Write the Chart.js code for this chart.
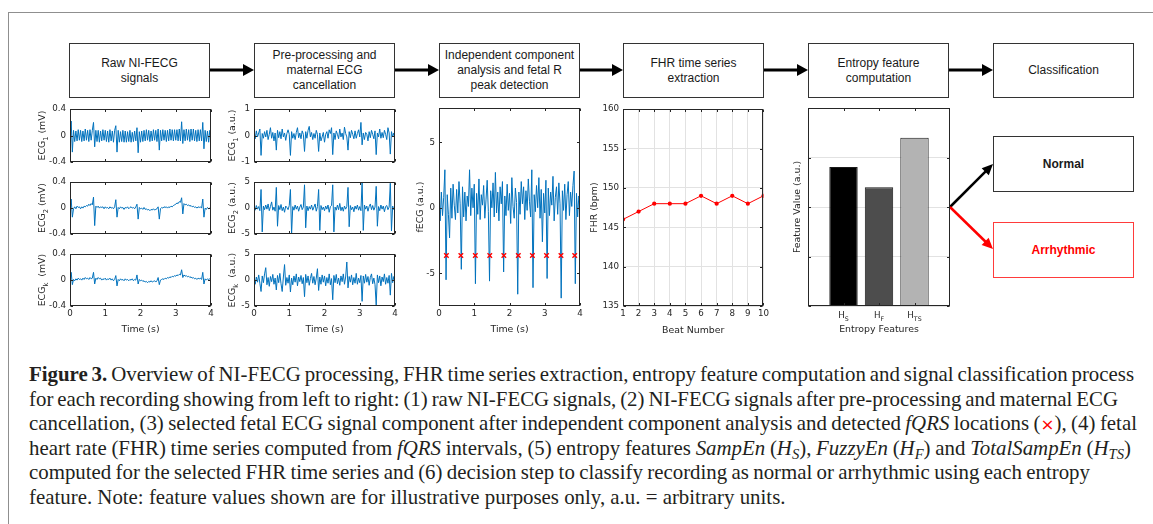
<!DOCTYPE html>
<html>
<head>
<meta charset="utf-8">
<script src="https://cdn.jsdelivr.net/npm/chart.js@4.4.1/dist/chart.umd.min.js"></script>
<style>
  html, body { margin: 0; padding: 0; background: #fff; }
  #page { position: relative; width: 1153px; height: 524px; overflow: hidden; background: #fff; }
  #page canvas { position: absolute; }
  .frameTop { position: absolute; left: 8px; top: 12px; width: 1145px; height: 1px; background: #8f8f8f; }
  .frameLeft { position: absolute; left: 8px; top: 12px; width: 1px; height: 512px; background: #8f8f8f; }
  .step {
    position: absolute; box-sizing: border-box; width: 141px; height: 55px;
    border: 1px solid #333; display: flex; align-items: center; justify-content: center;
    text-align: center; font: 12px/15px "Liberation Sans", Arial, sans-serif; color: #1a1a1a;
  }
  .step.bold { font-weight: bold; }
  .step.red { border-color: #ff3b3b; color: #ff0000; }
  #arrows { position: absolute; left: 0; top: 0; width: 1153px; height: 524px; }
  .cap {
    position: absolute; left: 29px; white-space: nowrap; color: #231f20;
    font-family: "Liberation Serif", "Times New Roman", serif; font-size: 18px; line-height: 24px;
  }
  .cap sub { font-size: 70%; vertical-align: -0.25em; line-height: 0; }
  .cap .x { color: #ff0000; font-family: "DejaVu Sans", sans-serif; font-size: 80%; }
</style>
</head>
<body>
<div id="page">
  <div class="frameTop"></div>
  <div class="frameLeft"></div>

  <div class="step" style="left:69px;top:43px">Raw NI-FECG<br>signals</div>
  <div class="step" style="left:254px;top:43px">Pre-processing and<br>maternal ECG<br>cancellation</div>
  <div class="step" style="left:439px;top:43px">Independent component<br>analysis and fetal R<br>peak detection</div>
  <div class="step" style="left:623px;top:43px">FHR time series<br>extraction</div>
  <div class="step" style="left:808px;top:43px">Entropy feature<br>computation</div>
  <div class="step" style="left:993px;top:43px">Classification</div>
  <div class="step bold" style="left:993px;top:136px;height:56px">Normal</div>
  <div class="step bold red" style="left:993px;top:222px;height:56px">Arrhythmic</div>

  <svg id="arrows" xmlns="http://www.w3.org/2000/svg"></svg>

  <div class="cap" style="top:362px"><b>Figure 3.</b> Overview of NI-FECG processing, FHR time series extraction, entropy feature computation and signal classification process</div>
  <div class="cap" style="top:386.5px">for each recording showing from left to right: (1) raw NI-FECG signals, (2) NI-FECG signals after pre-processing and maternal ECG</div>
  <div class="cap" style="top:411px">cancellation, (3) selected fetal ECG signal component after independent component analysis and detected <i>fQRS</i> locations (<span class="x">×</span>), (4) fetal</div>
  <div class="cap" style="top:435.5px">heart rate (FHR) time series computed from <i>fQRS</i> intervals, (5) entropy features <i>SampEn</i> (<i>H<sub>S</sub></i>), <i>FuzzyEn</i> (<i>H<sub>F</sub></i>) and <i>TotalSampEn</i> (<i>H<sub>TS</sub></i>)</div>
  <div class="cap" style="top:460px">computed for the selected FHR time series and (6) decision step to classify recording as normal or arrhythmic using each entropy</div>
  <div class="cap" style="top:484.5px">feature. Note: feature values shown are for illustrative purposes only, a.u. = arbitrary units.</div>
</div>

<script>
// ---- data ----
// all ECG traces: 121 samples over 0..4 s
const rawEcg1 = [
  0.00, 0.22, -0.25, 0.08, -0.09, 0.07, -0.08, 0.09, -0.07, 0.08,
  -0.09, 0.07, -0.08, 0.10, -0.07, 0.08, -0.09, 0.09, -0.07, 0.08,
  0.20, -0.17, 0.08, -0.09, 0.08, -0.10, 0.07, -0.08, 0.09, -0.07,
  0.08, -0.09, 0.07, -0.10, 0.09, -0.08, 0.07, -0.10, 0.08, 0.15,
  -0.25, 0.08, -0.10, 0.06, -0.09, 0.08, -0.10, 0.07, -0.10, 0.06,
  -0.09, 0.08, -0.10, 0.05, -0.09, 0.07, -0.08, 0.12, -0.26, 0.06,
  -0.10, 0.07, -0.09, 0.08, -0.08, 0.09, -0.07, 0.08, -0.09, 0.07,
  -0.08, 0.09, -0.07, 0.08, -0.09, 0.10, -0.22, 0.08, -0.08, 0.09,
  -0.07, 0.08, -0.09, 0.08, -0.08, 0.10, -0.07, 0.09, -0.08, 0.09,
  -0.07, 0.09, -0.08, 0.10, -0.08, 0.21, -0.12, 0.09, -0.08, 0.10,
  -0.07, 0.09, -0.09, 0.10, -0.07, 0.10, -0.08, 0.08, -0.09, 0.09,
  -0.08, 0.09, -0.08, 0.20, -0.20, 0.08, -0.09, 0.07, -0.10, 0.08,
  -0.06
];
const rawEcg2 = [
  -0.02, 0.14, -0.14, -0.01, 0.02, -0.01, 0.03, 0.01, 0.02, -0.01,
  0.02, 0.00, 0.03, 0.02, 0.04, 0.03, 0.06, 0.04, 0.07, 0.05,
  0.17, -0.27, 0.03, 0.01, 0.03, 0.00, 0.02, 0.01, 0.02, -0.01,
  0.02, 0.00, 0.01, -0.01, 0.02, 0.00, 0.01, -0.01, 0.02, 0.13,
  -0.14, 0.01, -0.01, 0.02, 0.00, 0.01, -0.02, 0.01, 0.00, 0.02,
  -0.01, 0.01, 0.02, 0.00, 0.01, -0.01, 0.02, 0.06, -0.17, 0.01,
  -0.01, 0.00, -0.02, 0.01, -0.02, -0.01, -0.03, -0.02, -0.04, -0.02,
  -0.03, -0.01, -0.03, -0.02, -0.01, 0.02, -0.17, -0.01, 0.01, 0.00,
  0.02, 0.01, 0.02, 0.00, 0.02, 0.01, 0.03, 0.02, 0.04, 0.05,
  0.06, 0.08, 0.07, 0.10, 0.09, 0.16, -0.09, 0.07, 0.05, 0.06,
  0.04, 0.05, 0.03, 0.04, 0.02, 0.03, 0.01, 0.02, 0.00, 0.02,
  0.01, 0.02, 0.00, 0.14, -0.14, 0.00, -0.02, 0.01, -0.01, 0.00,
  -0.01
];
const rawEcgK = [
  -0.03, 0.12, -0.07, 0.01, -0.01, 0.02, 0.00, 0.03, 0.01, 0.02,
  0.00, 0.03, 0.01, 0.04, 0.02, 0.03, 0.01, 0.04, 0.02, 0.03,
  0.12, -0.06, 0.03, 0.01, 0.04, 0.02, 0.03, 0.00, 0.02, 0.01,
  0.03, 0.00, 0.02, 0.01, 0.03, 0.00, 0.02, -0.01, 0.01, 0.07,
  -0.09, 0.01, -0.01, 0.02, 0.00, 0.01, -0.01, 0.02, 0.00, 0.01,
  -0.01, 0.01, 0.00, 0.02, -0.01, 0.01, 0.00, 0.08, -0.06, 0.01,
  -0.01, 0.00, -0.02, -0.01, -0.03, -0.02, -0.04, -0.02, -0.03, -0.01,
  -0.03, -0.02, -0.01, -0.03, -0.01, 0.04, -0.07, 0.00, 0.01, 0.02,
  0.01, 0.03, 0.02, 0.04, 0.03, 0.05, 0.04, 0.06, 0.05, 0.07,
  0.06, 0.08, 0.07, 0.09, 0.08, 0.16, 0.04, 0.08, 0.06, 0.07,
  0.05, 0.06, 0.04, 0.05, 0.03, 0.04, 0.02, 0.03, 0.01, 0.03,
  0.02, 0.03, 0.01, 0.12, -0.06, 0.02, 0.00, 0.02, 0.01, 0.02,
  0.01
];
const preEcg1 = [
  0.05, -0.12, 0.18, -0.05, 0.10, 0.25, -0.75, 0.08, -0.10, 0.15,
  -0.05, 0.20, -0.15, 0.05, 0.30, -0.10, 0.12, -0.20, 0.10, -0.55,
  0.20, -0.08, 0.15, -0.12, 0.25, -0.05, 0.10, -0.18, 0.08, 0.22,
  0.05, -0.75, 0.15, -0.10, 0.08, -0.15, 0.12, 0.30, -0.08, 0.10,
  -0.12, 0.18, 0.05, -0.60, 0.15, -0.10, 0.20, 0.35, -0.05, 0.12,
  -0.15, 0.08, -0.10, 0.20, 0.05, -0.60, 0.10, -0.20, -0.05, 0.12,
  -0.25, 0.05, 0.15, -0.10, 0.22, 0.08, 0.30, -0.72, 0.10, -0.15,
  0.18, 0.05, -0.12, 0.25, -0.05, 0.10, -0.15, 0.32, 0.08, -0.05,
  -0.55, 0.15, -0.08, 0.20, 0.05, -0.12, 0.18, -0.10, 0.08, 0.22,
  -0.05, 0.50, -0.35, 0.10, -0.15, 0.12, 0.05, -0.20, 0.15, -0.08,
  0.20, 0.05, -0.12, 0.18, -0.72, 0.10, -0.05, 0.25, -0.10, 0.12,
  -0.08, 0.20, 0.05, -0.15, 0.30, 0.10, -0.70, 0.15, -0.05, 0.10,
  -0.10
];
const preEcg2 = [
  0.2, -0.4, 0.5, -0.2, 0.3, -0.5, 3.6, -4.6, 0.4, -0.3,
  0.6, -0.2, 0.8, -0.5, 0.3, 1.2, -0.4, 0.2, -0.6, 4.0,
  -3.5, 0.5, -0.3, 0.7, -0.5, 0.2, -0.8, 0.4, 0.1, -0.3,
  0.5, 3.6, -5.0, 0.3, -0.4, 0.6, -0.2, 0.4, -0.6, 0.2,
  0.7, -0.3, 0.2, 4.5, -3.8, 0.4, -0.5, 0.3, -0.2, 0.6,
  -0.4, 0.2, 0.8, -0.6, 0.3, 3.6, -4.3, 0.5, -0.3, 0.2,
  -0.5, 0.4, -0.2, 0.6, -0.8, 0.3, 0.5, 4.5, -4.6, 0.2,
  -0.4, 0.6, -0.3, 0.9, -0.5, 0.2, -0.6, 0.4, -0.2, 0.3,
  4.0, -3.6, 0.5, -0.3, 0.2, -0.7, 0.4, -0.2, 0.6, -0.4,
  0.3, -0.5, 5.0, -4.3, 0.6, -0.2, 0.4, -0.6, 0.3, 0.8,
  -0.3, 0.5, -0.4, 0.2, 4.2, -3.5, 0.3, -0.5, 0.6, -0.2,
  0.4, -0.7, 0.3, 0.5, -0.3, 0.2, 4.8, -4.4, 0.4, -0.3,
  0.2
];
const preEcgK = [
  0.3, -0.8, 0.6, -0.4, 1.0, -0.6, -2.2, 0.8, -0.5, 1.2,
  2.4, -0.9, 0.5, -1.2, 0.7, -0.3, 1.1, -0.8, 0.4, -1.9,
  0.9, -0.5, 1.3, -0.7, -2.2, 0.6, 3.0, -1.0, 0.5, -0.6,
  1.0, -2.3, 0.4, -0.9, 0.8, -0.4, 1.2, -1.1, 0.6, -0.3,
  0.9, -0.7, 0.5, -3.2, 1.1, -0.5, 0.8, -1.0, 0.3, 1.3,
  -0.6, 0.7, -0.9, 0.4, 2.2, -2.0, 0.6, -0.8, 1.0, -0.4,
  0.8, -1.1, 0.5, -0.6, 1.2, -0.9, 0.3, -3.8, 0.9, -0.5,
  1.1, -0.7, 0.4, -1.0, 0.8, -0.3, 1.2, -0.8, 0.6, 3.5,
  -1.5, 0.7, -0.4, 1.0, -0.9, 0.5, -0.6, 1.3, -0.8, 0.4,
  -0.5, 0.9, -4.1, 0.8, -0.6, 1.1, -0.4, 0.7, -1.0, 0.5,
  1.2, -0.7, 0.4, -0.9, -4.8, 1.0, -0.5, 0.8, -1.1, 0.6,
  -0.3, 1.2, -0.8, 0.5, -0.6, 0.9, -2.9, 1.3, -0.5, 0.7,
  -0.2
];
const fetalEcg = [
  0.5, -1.0, 1.2, -0.6, 0.8, 2.9, -5.5, 1.0, -0.5, -2.3,
  1.5, -0.8, 1.8, 0.2, -0.9, 1.4, -0.4, 2.0, 0.3, -4.7,
  1.6, -0.7, 1.2, -1.0, 0.9, 0.1, 2.9, -0.6, 1.5, 0.0,
  1.8, -5.8, 1.1, -0.5, 2.2, -0.9, 1.0, 0.2, 1.7, -0.8,
  0.6, 2.1, -0.3, -5.6, 1.3, 0.0, 1.9, -0.7, 2.7, -0.4,
  1.2, -1.0, 1.6, 0.3, 2.0, -4.9, 0.9, -0.6, 1.8, -0.2,
  1.1, -1.2, 2.3, 0.1, -0.8, 1.5, 0.4, -6.6, 1.2, -0.5,
  2.0, 0.3, 1.6, -0.9, 1.3, -0.2, 2.2, 0.5, -0.7, 2.9,
  -6.1, 1.0, -0.3, 1.7, 0.0, 2.3, -0.8, 1.4, -2.6, 1.1,
  -0.4, 2.1, -5.4, 1.5, -0.6, 1.2, 0.2, 2.4, -1.0, 0.8,
  1.6, -0.5, 1.9, 0.3, -6.9, 1.3, -0.2, 1.8, -0.9, 1.0,
  2.0, -0.6, 1.2, 0.1, 1.7, 2.8, -5.8, 1.1, -0.7, 0.9,
  0.2
];
// detected fQRS locations (s) and the level they are marked at
const fqrsTimes = [0.21, 0.62, 1.03, 1.44, 1.84, 2.25, 2.65, 3.05, 3.46, 3.85];
const fqrsLevel = [-3.65, -3.65, -3.65, -3.65, -3.65, -3.65, -3.65, -3.65, -3.65, -3.65];

const beatNumbers = [1, 2, 3, 4, 5, 6, 7, 8, 9, 10];
const fhrValues = [146, 147, 148, 148, 148, 149, 148, 149, 148, 149];

const entropyFeatures = ['H_S', 'H_F', 'H_TS'];
const entropyValues = [2.81, 2.40, 3.40];
const entropyColors = ['#000000', '#4d4d4d', '#b3b3b3'];

// tick labels
const timeTicks = [0, 1, 2, 3, 4];
const rawTicks = [-0.4, 0, 0.4];
const pre1Ticks = [-1, 0, 1];
const preTicks = [-5, 0, 5];
const fecgTicks = [-5, 0, 5];
const fhrTicks = [135, 140, 145, 150, 155, 160];
const entropyYTicks = [0, 1, 2, 3, 4];
const entropyXTicks = [1, 2, 3];

// ---- helpers ----
const page = document.getElementById('page');
const AXIS_FONT = 8.7;
const TITLE_FONT = 9.4;
const INK = '#262626';
Chart.defaults.font.family = 'DejaVu Sans';

function trace(values) {
  const n = values.length;
  return values.map((v, i) => ({ x: i * 4 / (n - 1), y: v }));
}

function drawRich(ctx, parts, cx, cy, fs) {
  const fnt = sub => (sub ? fs * 0.72 : fs) + 'px "DejaVu Sans"';
  let w = 0;
  parts.forEach(([s, sub]) => { ctx.font = fnt(sub); w += ctx.measureText(s).width; });
  let x = cx - w / 2;
  ctx.textAlign = 'left';
  ctx.textBaseline = 'middle';
  parts.forEach(([s, sub]) => {
    ctx.font = fnt(sub);
    ctx.fillText(s, x, cy + (sub ? fs * 0.35 : 0));
    x += ctx.measureText(s).width;
  });
}

// matlab-ish box with inward ticks on all sides + axis titles
function boxAxes(p) {
  return {
    id: 'boxAxes',
    afterDraw(chart) {
      const { ctx, chartArea: a, scales } = chart;
      const l = Math.round(a.left) + 0.5, t = Math.round(a.top) + 0.5;
      const r = Math.round(a.right) - 0.5, b = Math.round(a.bottom) - 0.5;
      const tl = 2.5;
      ctx.save();
      ctx.strokeStyle = INK;
      ctx.lineWidth = 1;
      ctx.beginPath();
      scales.x.ticks.forEach(tk => {
        const px = Math.round(scales.x.getPixelForValue(tk.value)) + 0.5;
        ctx.moveTo(px, b); ctx.lineTo(px, b - tl);
        ctx.moveTo(px, t); ctx.lineTo(px, t + tl);
      });
      scales.y.ticks.forEach(tk => {
        const py = Math.round(scales.y.getPixelForValue(tk.value)) + 0.5;
        ctx.moveTo(l, py); ctx.lineTo(l + tl, py);
        ctx.moveTo(r, py); ctx.lineTo(r - tl, py);
      });
      ctx.stroke();
      ctx.strokeRect(l, t, r - l, b - t);

      ctx.fillStyle = INK;
      if (p.yTitle) {
        ctx.save();
        ctx.translate(a.left - p.yTitleDx, (a.top + a.bottom) / 2);
        ctx.rotate(-Math.PI / 2);
        drawRich(ctx, p.yTitle, 0, 0, TITLE_FONT);
        ctx.restore();
      }
      if (p.xTitle) drawRich(ctx, [[p.xTitle, false]], (a.left + a.right) / 2, a.bottom + p.xTitleDy, TITLE_FONT);
      if (p.xNames) {
        p.xNames.forEach((name, i) => {
          const [base, sub] = name.split('_');
          const px = scales.x.getPixelForValue(p.xNamePos[i]);
          drawRich(ctx, [[base, false], [sub, true]], px, a.bottom + 10, AXIS_FONT);
        });
      }
      ctx.restore();
    }
  };
}

function axis(which, o, size) {
  return {
    type: 'linear',
    position: which === 'x' ? 'bottom' : 'left',
    min: o.min, max: o.max, offset: false,
    afterBuildTicks: s => { s.ticks = o.ticks.map(v => ({ value: v })); },
    afterFit: s => { if (which === 'x') s.height = size; else s.width = size; },
    grid: { display: !!o.grid, color: '#e2e2e2', drawTicks: false, lineWidth: 1 },
    border: { display: false },
    ticks: {
      display: o.labels !== false,
      padding: which === 'x' ? 3 : 4,
      color: INK,
      font: { size: AXIS_FONT },
      maxRotation: 0, autoSkip: false,
      callback: v => String(v)
    }
  };
}

function makePanel(p) {
  const T = 8, R = 8, L = 40;
  const cv = document.createElement('canvas');
  cv.width = p.w + L + R;
  cv.height = p.h + T + p.B;
  cv.style.left = (p.x - L) + 'px';
  cv.style.top = (p.y - T) + 'px';
  page.appendChild(cv);
  return new Chart(cv, {
    type: 'line',
    data: { datasets: p.datasets },
    options: {
      responsive: false,
      animation: false,
      events: [],
      layout: { padding: { top: T, right: R, left: 0, bottom: 0 } },
      plugins: { legend: { display: false }, tooltip: { enabled: false } },
      scales: { x: axis('x', p.xAxis, p.B), y: axis('y', p.yAxis, L) }
    },
    plugins: [boxAxes(p)]
  });
}

function ecgLine(values) {
  return {
    data: trace(values), borderColor: '#0072BD', borderWidth: 1,
    pointRadius: 0, tension: 0, fill: false, order: 1
  };
}

const timeAxisHidden = { min: 0, max: 4, ticks: timeTicks, labels: false };
const timeAxis = { min: 0, max: 4, ticks: timeTicks };

// ---- column 1: raw signals ----
makePanel({ x: 70, y: 108, w: 141, h: 54, B: 12, datasets: [ecgLine(rawEcg1)],
  xAxis: timeAxisHidden, yAxis: { min: -0.4, max: 0.4, ticks: rawTicks },
  yTitle: [['ECG', false], ['1', true], [' (mV)', false]], yTitleDx: 27 });
makePanel({ x: 70, y: 181, w: 141, h: 53, B: 12, datasets: [ecgLine(rawEcg2)],
  xAxis: timeAxisHidden, yAxis: { min: -0.4, max: 0.4, ticks: rawTicks },
  yTitle: [['ECG', false], ['2', true], [' (mV)', false]], yTitleDx: 27 });
makePanel({ x: 70, y: 253, w: 141, h: 53, B: 34, datasets: [ecgLine(rawEcgK)],
  xAxis: timeAxis, yAxis: { min: -0.4, max: 0.4, ticks: rawTicks },
  yTitle: [['ECG', false], ['k', true], ['  (mV)', false]], yTitleDx: 27,
  xTitle: 'Time (s)', xTitleDy: 24 });

// ---- column 2: pre-processed ----
makePanel({ x: 254, y: 108, w: 141, h: 54, B: 12, datasets: [ecgLine(preEcg1)],
  xAxis: timeAxisHidden, yAxis: { min: -1, max: 1, ticks: pre1Ticks },
  yTitle: [['ECG', false], ['1', true], [' (a.u.)', false]], yTitleDx: 21 });
makePanel({ x: 254, y: 181, w: 141, h: 53, B: 12, datasets: [ecgLine(preEcg2)],
  xAxis: timeAxisHidden, yAxis: { min: -5, max: 5, ticks: preTicks },
  yTitle: [['ECG', false], ['2', true], [' (a.u.)', false]], yTitleDx: 21 });
makePanel({ x: 254, y: 253, w: 141, h: 53, B: 34, datasets: [ecgLine(preEcgK)],
  xAxis: timeAxis, yAxis: { min: -5, max: 5, ticks: preTicks },
  yTitle: [['ECG', false], ['k', true], ['  (a.u.)', false]], yTitleDx: 21,
  xTitle: 'Time (s)', xTitleDy: 24 });

// ---- column 3: fetal ECG component + fQRS ----
makePanel({ x: 439, y: 107, w: 141, h: 199, B: 34,
  datasets: [
    { data: fqrsTimes.map((t, i) => ({ x: t, y: fqrsLevel[i] })), showLine: false,
      pointStyle: 'crossRot', pointRadius: 3.2, borderColor: '#ff0000', borderWidth: 1.4, order: 0 },
    ecgLine(fetalEcg)
  ],
  xAxis: timeAxis, yAxis: { min: -7.5, max: 7.6, ticks: fecgTicks },
  yTitle: [['fECG (a.u.)', false]], yTitleDx: 18, xTitle: 'Time (s)', xTitleDy: 24 });

// ---- column 4: FHR ----
makePanel({ x: 623, y: 108, w: 141, h: 198, B: 34,
  datasets: [{
    data: beatNumbers.map((b, i) => ({ x: b, y: fhrValues[i] })),
    borderColor: '#ff0000', borderWidth: 1, pointRadius: 2.1,
    pointBackgroundColor: '#ff0000', pointBorderWidth: 0, tension: 0
  }],
  xAxis: { min: 1, max: 10, ticks: beatNumbers, grid: true },
  yAxis: { min: 135, max: 160, ticks: fhrTicks, grid: true },
  yTitle: [['FHR (bpm)', false]], yTitleDx: 28, xTitle: 'Beat Number', xTitleDy: 25 });

// ---- column 5: entropy features ----
makePanel({ x: 808, y: 108, w: 142, h: 198, B: 34,
  datasets: [{
    type: 'bar',
    data: entropyValues.map((v, i) => ({ x: entropyXTicks[i], y: v })),
    backgroundColor: entropyColors, borderColor: '#1a1a1a', borderWidth: 1,
    barPercentage: 0.8, categoryPercentage: 1
  }],
  xAxis: { min: 0, max: 4, ticks: entropyXTicks, labels: false },
  yAxis: { min: 0, max: 4, ticks: entropyYTicks, labels: false, grid: true },
  yTitle: [['Feature Value (a.u.)', false]], yTitleDx: 10,
  xTitle: 'Entropy Features', xTitleDy: 24,
  xNames: entropyFeatures, xNamePos: entropyXTicks });

// ---- flow arrows ----
const svg = document.getElementById('arrows');
function arrow(x1, y1, x2, y2, color, w, hl, hw) {
  const dx = x2 - x1, dy = y2 - y1, len = Math.hypot(dx, dy);
  const ux = dx / len, uy = dy / len;
  const bx = x2 - ux * hl, by = y2 - uy * hl;
  const ns = 'http://www.w3.org/2000/svg';
  const ln = document.createElementNS(ns, 'line');
  ln.setAttribute('x1', x1); ln.setAttribute('y1', y1);
  ln.setAttribute('x2', bx + ux); ln.setAttribute('y2', by + uy);
  ln.setAttribute('stroke', color); ln.setAttribute('stroke-width', w);
  svg.appendChild(ln);
  const pg = document.createElementNS(ns, 'polygon');
  pg.setAttribute('points', [
    [x2, y2], [bx - uy * hw / 2, by + ux * hw / 2], [bx + uy * hw / 2, by - ux * hw / 2]
  ].map(q => q.join(',')).join(' '));
  pg.setAttribute('fill', color);
  svg.appendChild(pg);
}
const stepLefts = [69, 254, 439, 623, 808, 993];
for (let i = 0; i < stepLefts.length - 1; i++) {
  arrow(stepLefts[i] + 141, 70, stepLefts[i + 1], 70, '#000', 3, 11, 12);
}
arrow(950, 207, 993, 164, '#000', 2.5, 11, 10);
arrow(950, 207, 993, 249, '#ff0000', 2.5, 11, 10);

// ---- caption: size font from last line, then justify to the measured line ends ----
const capEnds = [1134, 1118, 1137, 1131, 1090, 786];
const caps = document.querySelectorAll('.cap');
const last = caps[caps.length - 1];
const fs = 18 * (capEnds[5] - 29) / last.getBoundingClientRect().width;
caps.forEach(c => { c.style.fontSize = fs.toFixed(2) + 'px'; });
caps.forEach((c, i) => {
  const w = c.getBoundingClientRect().width;
  const spaces = (c.textContent.match(/ /g) || []).length;
  const ws = (capEnds[i] - 29 - w) / spaces;
  if (i < 5) c.style.wordSpacing = ws.toFixed(2) + 'px';
});
</script>
</body>
</html>
